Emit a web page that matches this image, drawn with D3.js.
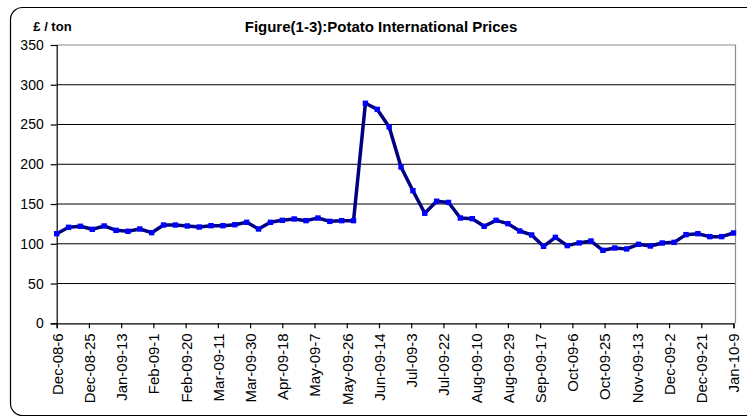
<!DOCTYPE html>
<html>
<head>
<meta charset="utf-8">
<script src="https://cdn.jsdelivr.net/npm/d3@7"></script>
<style>
  body { margin: 0; background: #fff; }
  svg { display: block; font-family: "Liberation Sans", Arial, sans-serif; }
</style>
</head>
<body>
<div id="chart"></div>
<script>
// weekly prices, first week = Dec 6 2008
var firstWeek = "2008-12-06";
var prices = [
  112.7, 120.7, 122, 118.2, 122.4, 116.9, 115.7, 118.6, 114, 123.6,
  123.6, 122.4, 121.1, 122.8, 122.8, 124, 127, 118.6, 127, 129.5,
  131.2, 129.1, 132.4, 128.2, 129.1, 129.1, 276.7, 269, 247, 196.6,
  166.8, 138.4, 153.5, 152, 132.4, 131.6, 122, 129.5, 125.3, 116.1,
  111.1, 96.8, 108.1, 97.7, 101.1, 103.5, 91.8, 94.7, 93.5, 99.3,
  97.2, 101, 101.8, 111.5, 112.7, 109, 109, 113.6
];
var tickLabels = [
  "Dec-08-6", "Dec-08-25", "Jan-09-13", "Feb-09-1", "Feb-09-20", "Mar-09-11",
  "Mar-09-30", "Apr-09-18", "May-09-7", "May-09-26", "Jun-09-14", "Jul-09-3",
  "Jul-09-22", "Aug-09-10", "Aug-09-29", "Sep-09-17", "Oct-09-6", "Oct-09-25",
  "Nov-09-13", "Dec-09-2", "Dec-09-21", "Jan-10-9"
];
var yTicks = [0, 50, 100, 150, 200, 250, 300, 350];
var title = "Figure(1-3):Potato International Prices";
var unitLabel = "£ / ton";

var width = 747, height = 417;
// plot area edges (note: "top" is taken by window.top, so use plot* names)
var plotLeft = 56.7, plotRight = 733.5, plotTop = 45, plotBottom = 323.3, boxRight = 735.5;

var parseTick = d3.utcParse("%b-%y-%d");
var fmtTick = d3.utcFormat("%b-%y-%-d");
var tickDates = tickLabels.map(parseTick);
var start = d3.utcParse("%Y-%m-%d")(firstWeek);

var data = prices.map(function (v, i) {
  return { date: d3.utcWeek.offset(start, i), value: v };
});

var svg = d3.select("#chart").append("svg")
  .attr("width", width)
  .attr("height", height);

svg.append("rect")
  .attr("width", width).attr("height", height)
  .attr("fill", "#fff");

// outer chart frame (runs off the right edge like the original)
svg.append("rect")
  .attr("x", 10.5).attr("y", 7.5)
  .attr("width", 750).attr("height", 408)
  .attr("rx", 12).attr("ry", 12)
  .attr("fill", "none")
  .attr("stroke", "#000")
  .attr("stroke-width", 1.2);

var x = d3.scaleUtc()
  .domain([tickDates[0], tickDates[tickDates.length - 1]])
  .range([plotLeft, plotRight]);

var y = d3.scaleLinear()
  .domain([0, 350])
  .range([plotBottom, plotTop]);

// gridlines
svg.append("g")
  .selectAll("line")
  .data(yTicks.filter(function (d) { return d > 0 && d < 350; }))
  .enter().append("line")
  .attr("x1", plotLeft).attr("x2", boxRight)
  .attr("y1", function (d) { return y(d); })
  .attr("y2", function (d) { return y(d); })
  .attr("stroke", "#000")
  .attr("stroke-width", 1);

// plot area border top / right
svg.append("path")
  .attr("d", "M" + plotLeft + "," + plotTop + "H" + boxRight + "V" + plotBottom)
  .attr("fill", "none")
  .attr("stroke", "#8c8c8c")
  .attr("stroke-width", 1.2);

// y axis
var yAxis = svg.append("g")
  .attr("transform", "translate(" + plotLeft + ",0)")
  .call(d3.axisLeft(y).tickValues(yTicks).tickSize(6).tickPadding(7));
yAxis.select(".domain").attr("stroke", "#000").attr("stroke-width", 1.2);
yAxis.selectAll(".tick line").attr("stroke", "#000").attr("stroke-width", 1.2);
yAxis.selectAll("text")
  .attr("font-size", 14)
  .attr("font-family", "Liberation Sans, Arial, sans-serif")
  .attr("fill", "#000");

// x axis
var xAxis = svg.append("g")
  .attr("transform", "translate(0," + plotBottom + ")")
  .call(d3.axisBottom(x).tickValues(tickDates).tickFormat(fmtTick).tickSize(5));
xAxis.select(".domain").attr("stroke", "#000").attr("stroke-width", 1.2);
xAxis.selectAll(".tick line").attr("stroke", "#000").attr("stroke-width", 1.2);
xAxis.selectAll("text")
  .attr("font-size", 15)
  .attr("font-family", "Liberation Sans, Arial, sans-serif")
  .attr("fill", "#000")
  .attr("text-anchor", "end")
  .attr("transform", "rotate(-90)")
  .attr("x", -10)
  .attr("y", 0)
  .attr("dy", "0.36em");

// price line
var line = d3.line()
  .x(function (d) { return x(d.date); })
  .y(function (d) { return y(d.value); });

svg.append("path")
  .datum(data)
  .attr("d", line)
  .attr("fill", "none")
  .attr("stroke", "#000080")
  .attr("stroke-width", 3.5)
  .attr("stroke-linejoin", "round");

svg.append("g")
  .selectAll("rect")
  .data(data)
  .enter().append("rect")
  .attr("x", function (d) { return x(d.date) - 2.7; })
  .attr("y", function (d) { return y(d.value) - 2.7; })
  .attr("width", 5.4)
  .attr("height", 5.4)
  .attr("fill", "#0000ff");

// titles
svg.append("text")
  .attr("x", 381).attr("y", 31.5)
  .attr("text-anchor", "middle")
  .attr("font-size", 15)
  .attr("font-weight", "bold")
  .text(title);

svg.append("text")
  .attr("x", 33.3).attr("y", 30.5)
  .attr("font-size", 13)
  .attr("font-weight", "bold")
  .text(unitLabel);
</script>
</body>
</html>
